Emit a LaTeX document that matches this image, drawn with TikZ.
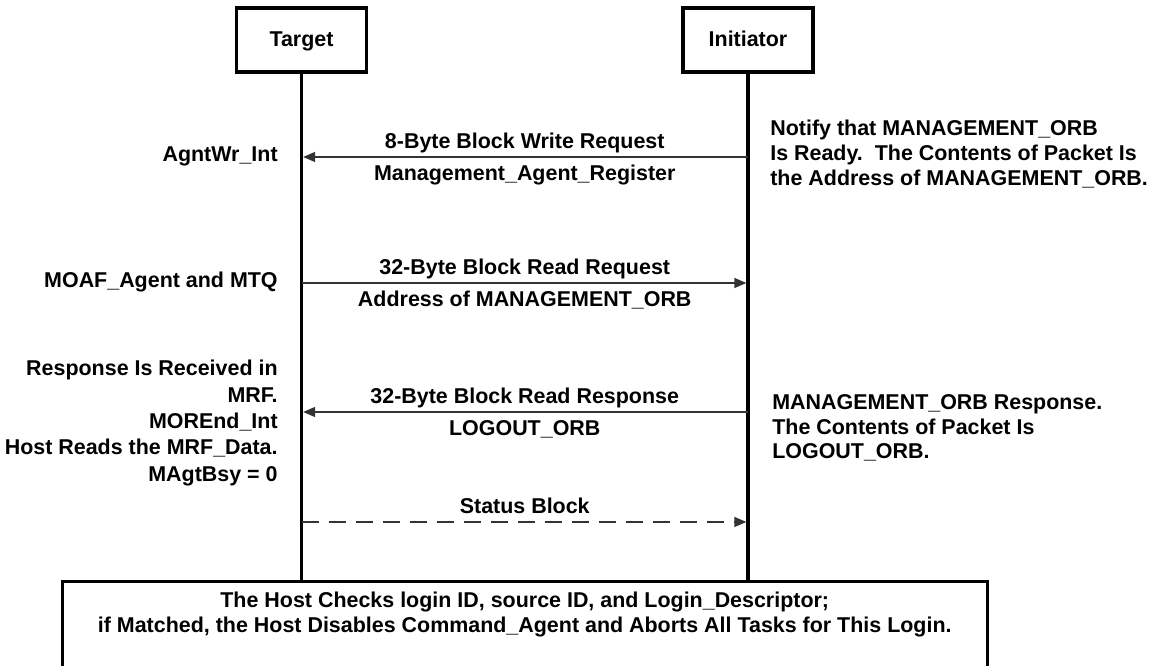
\documentclass[tikz,border=0pt]{standalone}
\usepackage{fontspec}
\setmainfont{Liberation Sans}
\usetikzlibrary{arrows.meta, positioning}

\begin{document}
\begin{tikzpicture}[
	font = \fontsize{12.2}{14}\selectfont\bfseries,
	actor/.style = {draw, line width = 1.9pt, minimum width = 2.6cm, minimum height = 1.28cm, text height = 0.72em, text depth = 0.02em},
	lifeline/.style = {line width = 1.9pt},
	msg/.style = {draw = black!80, line width = 0.8pt, shorten > = 0.95pt, -{Triangle[length = 0.24cm, width = 0.2cm]}},
	msgtop/.style = {anchor = base, yshift = 0.17cm},
	msgbottom/.style = {anchor = base, yshift = -0.48cm},
	leftnote/.style = {anchor = east, align = right, inner sep = 0pt},
	rightnote/.style = {anchor = west, align = left, inner sep = 0pt}
]
	\useasboundingbox (0, 0) rectangle (23, 13.32);

	% participants and host box
	\node[actor] (target) at (6.03, 12.52) {Target};
	\node[actor] (initiator) at (14.96, 12.52) {Initiator};
	\node[actor, minimum width = 18.5cm, minimum height = 3cm, anchor = north] (host) at (10.495, 1.72) {};
	\node[align = center] (hosttext) at (10.495, 1.03) {The Host Checks login ID, source ID, and Login\_Descriptor;\\ if Matched, the Host Disables Command\_Agent and Aborts All Tasks for This Login.};

	\draw[lifeline] (target) -- (target |- host.north);
	\draw[lifeline] (initiator) -- (initiator |- host.north);

	% points on the lifelines
	\coordinate (t1) at (6.03, 10.18);
	\coordinate (i1) at (14.96, 10.18);
	\coordinate (t2) at (6.03, 7.66);
	\coordinate (i2) at (14.96, 7.66);
	\coordinate (t3) at (6.03, 5.08);
	\coordinate (i3) at (14.96, 5.08);
	\coordinate (t4) at (6.03, 2.88);
	\coordinate (i4) at (14.96, 2.88);

	% messages
	\draw[msg] (i1) -- (t1) node[midway, msgtop] (m1a) {8-Byte Block Write Request} node[midway, msgbottom] (m1b) {Management\_Agent\_Register};
	\draw[msg] (t2) -- (i2) node[midway, msgtop] (m2a) {32-Byte Block Read Request} node[midway, msgbottom] (m2b) {Address of MANAGEMENT\_ORB};
	\draw[msg] (i3) -- (t3) node[midway, msgtop] (m3a) {32-Byte Block Read Response} node[midway, msgbottom] (m3b) {LOGOUT\_ORB};
	\draw[msg, dash pattern = on 0.34cm off 0.2cm] (t4) -- (i4) node[midway, msgtop] (m4a) {Status Block};

	% notes
	\node[leftnote, anchor = mid east] (n1) at (5.56, 10.18) {AgntWr\_Int};
	\node[leftnote, anchor = mid east] (n2) at (5.56, 7.66) {MOAF\_Agent and MTQ};
	\node[leftnote, font = \fontsize{12.2}{15}\selectfont\bfseries] (n3) at (5.56, 4.86) {Response Is Received in\\ MRF.\\ MOREnd\_Int\\ Host Reads the MRF\_Data.\\ MAgtBsy = 0};
	\node[rightnote] (n4) at (15.4, 10.24) {Notify that MANAGEMENT\_ORB\\ Is Ready.\ \ The Contents of Packet Is\\ the Address of MANAGEMENT\_ORB.};
	\node[rightnote] (n5) at (15.44, 4.76) {MANAGEMENT\_ORB Response.\\ The Contents of Packet Is\\ LOGOUT\_ORB.};
\end{tikzpicture}
\end{document}
